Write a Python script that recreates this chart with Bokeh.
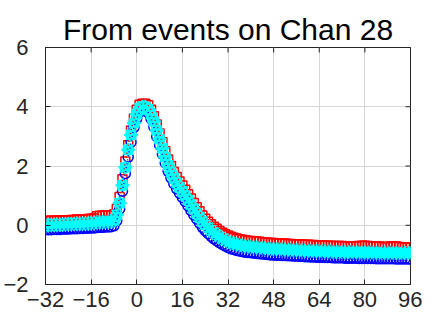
import math
from bokeh.plotting import figure
from bokeh.models import Range1d, FixedTicker
from bokeh.embed import file_html
from bokeh.resources import INLINE

TITLE = "From events on Chan 28"
X_TICKS = [-32, -16, 0, 16, 32, 48, 64, 80, 96]
Y_TICKS = [-2, 0, 2, 4, 6]

# sample positions (-32 .. 96)
samples = list(range(-32, 97))

upper = [
    0.14, 0.15, 0.15, 0.15, 0.16, 0.16, 0.16, 0.17, 0.17, 0.18,
    0.18, 0.19, 0.19, 0.20, 0.20, 0.21, 0.22, 0.23,
    0.30, 0.32, 0.33, 0.33, 0.34, 0.34, 0.36,
    0.55, 0.95, 1.55, 2.15, 2.7, 3.2, 3.6, 3.9, 4.07, 4.1,
    4.1, 4.05, 3.9, 3.68, 3.4, 3.1, 2.8, 2.5, 2.22, 2.0,
    1.8, 1.63, 1.48, 1.34, 1.2, 1.05, 0.9, 0.75, 0.61, 0.47, 0.33, 0.22,
    0.12, 0.03, -0.05, -0.12, -0.19, -0.25, -0.3, -0.35, -0.39, -0.42,
    -0.45, -0.47, -0.49, -0.51, -0.52, -0.53, -0.54, -0.55, -0.56, -0.57,
    -0.58, -0.59, -0.6, -0.6, -0.61, -0.61,
    -0.62, -0.62, -0.63, -0.63, -0.64, -0.64, -0.65, -0.65, -0.66, -0.66,
    -0.67, -0.67, -0.68, -0.68, -0.68, -0.69, -0.69, -0.69, -0.70, -0.70,
    -0.70, -0.70, -0.71, -0.71, -0.71, -0.71, -0.71, -0.70, -0.69, -0.69,
    -0.70, -0.71, -0.72, -0.72, -0.72, -0.73, -0.73, -0.73, -0.72, -0.71,
    -0.72, -0.73, -0.74, -0.74, -0.74, -0.74,
]

middle = [
    0.00, 0.00, 0.01, 0.01, 0.02, 0.02, 0.02, 0.03, 0.03, 0.04,
    0.04, 0.05, 0.05, 0.05, 0.06, 0.06, 0.07, 0.07,
    0.10, 0.11, 0.11, 0.12, 0.12, 0.13, 0.16,
    0.35, 0.75, 1.35, 1.95, 2.55, 3.05, 3.45, 3.75, 3.95, 4.0,
    4.0, 3.92, 3.75, 3.5, 3.2, 2.9, 2.6, 2.3, 2.02, 1.8,
    1.6, 1.43, 1.28, 1.14, 1.0, 0.85, 0.7, 0.55, 0.41, 0.27, 0.13, 0.02,
    -0.08, -0.17, -0.25, -0.32, -0.39, -0.45, -0.5, -0.55, -0.59, -0.62,
    -0.65, -0.67, -0.69, -0.71, -0.72, -0.73, -0.74, -0.75, -0.76, -0.77,
    -0.78, -0.79, -0.8, -0.8, -0.81, -0.81,
    -0.82, -0.82, -0.83, -0.83, -0.84, -0.84, -0.85, -0.85, -0.86, -0.86,
    -0.87, -0.87, -0.88, -0.88, -0.88, -0.89, -0.89, -0.89, -0.90, -0.90,
    -0.90, -0.90, -0.91, -0.91, -0.91, -0.91, -0.91, -0.92, -0.92, -0.92,
    -0.92, -0.92, -0.92, -0.93, -0.93, -0.93, -0.93, -0.93, -0.93, -0.93,
    -0.94, -0.94, -0.94, -0.94, -0.94, -0.94,
]

lower = [
    -0.14, -0.15, -0.15, -0.14, -0.14, -0.14, -0.13, -0.13, -0.13, -0.12,
    -0.12, -0.12, -0.11, -0.11, -0.10, -0.10, -0.09, -0.09,
    -0.08, -0.07, -0.07, -0.06, -0.06, -0.05, -0.02,
    0.15, 0.55, 1.15, 1.75, 2.3, 2.8, 3.3, 3.6, 3.82, 3.9,
    3.9, 3.8, 3.6, 3.32, 3.0, 2.7, 2.4, 2.1, 1.82, 1.6,
    1.4, 1.23, 1.08, 0.94, 0.8, 0.65, 0.5, 0.35, 0.21, 0.07, -0.07, -0.18,
    -0.28, -0.37, -0.45, -0.52, -0.59, -0.65, -0.7, -0.75, -0.79, -0.82,
    -0.85, -0.87, -0.89, -0.91, -0.92, -0.93, -0.94, -0.95, -0.96, -0.97,
    -0.98, -0.99, -1.0, -1.0, -1.01, -1.01,
    -1.02, -1.02, -1.03, -1.03, -1.04, -1.04, -1.05, -1.05, -1.06, -1.06,
    -1.07, -1.07, -1.08, -1.08, -1.08, -1.09, -1.09, -1.09, -1.10, -1.10,
    -1.10, -1.10, -1.11, -1.11, -1.11, -1.11, -1.11, -1.12, -1.12, -1.12,
    -1.12, -1.12, -1.12, -1.13, -1.13, -1.13, -1.13, -1.13, -1.13, -1.13,
    -1.14, -1.14, -1.14, -1.14, -1.14, -1.14,
]

FONT = "Liberation Sans"
AX = "#262626"

p = figure(width=422, height=317, output_backend="svg", toolbar_location=None,
           x_range=Range1d(X_TICKS[0], X_TICKS[-1]),
           y_range=Range1d(Y_TICKS[0], Y_TICKS[-1]),
           min_border_left=41, min_border_right=12, min_border_top=47,
           min_border_bottom=33, title=TITLE)

p.title.text_font = FONT
p.title.text_font_size = "30px"
p.title.text_font_style = "normal"
p.title.text_color = "#000000"
p.title.align = "center"
p.title.standoff = 4

p.background_fill_color = "white"
p.border_fill_color = "white"
p.outline_line_color = AX
p.outline_line_width = 1

for ax in (p.xaxis[0], p.yaxis[0]):
    ax.major_label_text_font = FONT
    ax.major_label_text_font_size = "22px"
    ax.major_label_text_color = "#262626"
    ax.axis_line_color = AX
    ax.major_tick_line_color = AX
    ax.major_tick_in = 5
    ax.major_tick_out = 0
    ax.minor_tick_line_color = None

p.xaxis[0].ticker = FixedTicker(ticks=X_TICKS)
p.yaxis[0].ticker = FixedTicker(ticks=Y_TICKS)
p.xaxis[0].major_label_standoff = 7
p.yaxis[0].major_label_standoff = 17

p.xgrid.ticker = FixedTicker(ticks=X_TICKS)
p.ygrid.ticker = FixedTicker(ticks=Y_TICKS)
p.grid.grid_line_color = "#d6d6d6"
p.grid.grid_line_width = 1

# inward ticks on the top and right edges of the box
p.scatter(X_TICKS, [Y_TICKS[-1]] * len(X_TICKS), marker="dash", size=10,
          angle=math.pi / 2, line_color=AX, line_width=1)
p.scatter([X_TICKS[-1]] * len(Y_TICKS), Y_TICKS, marker="dash", size=10,
          line_color=AX, line_width=1)

p.scatter(samples, upper, marker="square", size=9, line_color="#ff0000",
          fill_color=None, line_width=1.5)
p.scatter(samples, lower, marker="circle", size=10, line_color="#0000ff",
          fill_color=None, line_width=1.5)
p.scatter(samples, middle, marker="asterisk", size=14, line_color="#00ffff",
          line_width=2)
p.scatter(samples, middle, marker="circle", size=12, line_color=None,
          fill_color="#00ffff")
p.line(samples, upper, line_color="#ff0000", line_dash="1 3", line_width=1.5)
p.line(samples, lower, line_color="#0000ff", line_dash="1 3", line_width=1.5)

open("out.html", "w").write(file_html(p, INLINE))
